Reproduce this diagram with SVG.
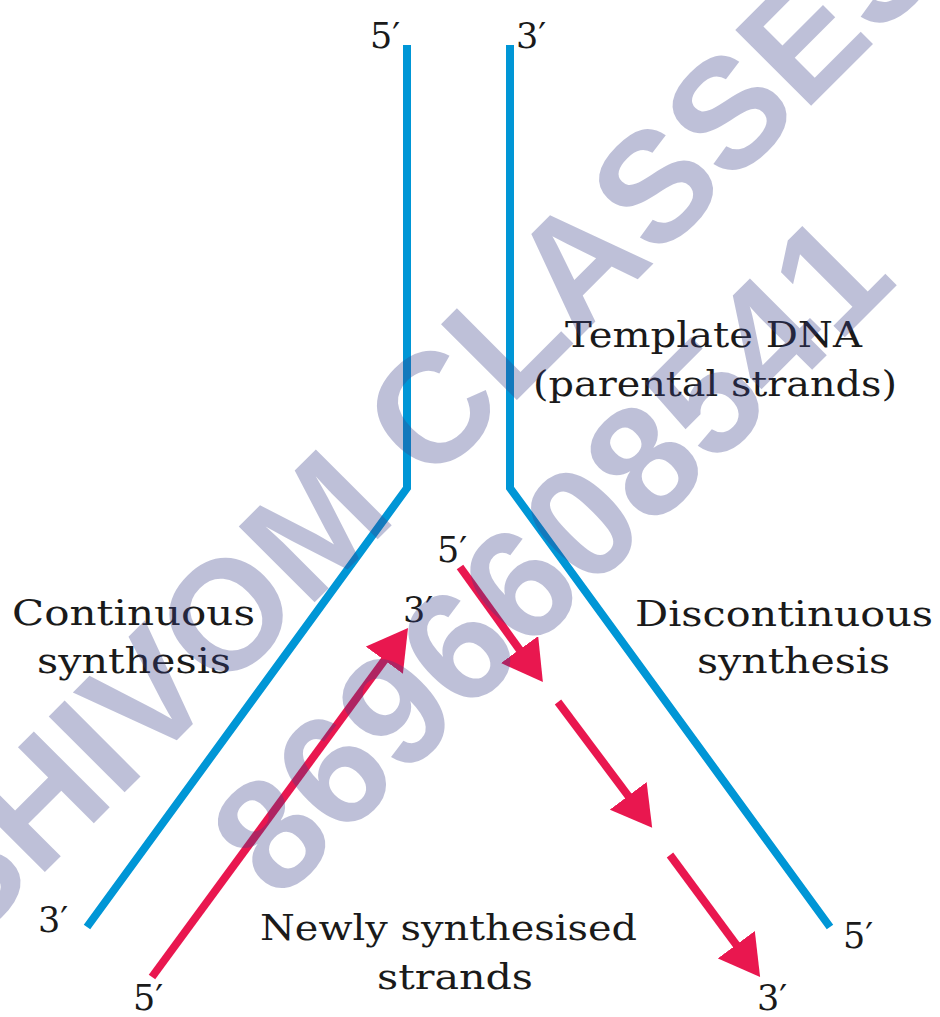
<svg xmlns="http://www.w3.org/2000/svg" width="940" height="1017" viewBox="0 0 940 1017">
  <style>
    .lbl { font-family: "DejaVu Serif", "Liberation Serif", serif; font-size: 36px; fill: #1a1a1a; }
    .end { font-family: "DejaVu Serif", "Liberation Serif", serif; font-size: 35px; fill: #1a1a1a; }
    .tmpl { fill: none; stroke: #0096d6; stroke-width: 8; stroke-linejoin: miter; stroke-linecap: butt; }
    .new { fill: none; stroke: #e9174f; stroke-width: 8; stroke-linecap: butt; }
    .wm { font-family: "Liberation Sans", Arial, sans-serif; font-weight: bold; fill: #3a3f8a; fill-opacity: 0.33; }
  </style>
  <defs>
    <marker id="head" markerUnits="userSpaceOnUse" markerWidth="40" markerHeight="46" refX="20" refY="23" orient="auto" viewBox="0 0 40 46">
      <path d="M0,0 L40,23 L0,46 z" fill="#e9174f"/>
    </marker>
  </defs>
  <rect width="940" height="1017" fill="#ffffff"/>

  <g id="connectors">
    <path id="template-left" class="tmpl" d="M407,45 L407,488 L87,927"/>
    <path id="template-right" class="tmpl" d="M510,45 L510,488 L830,927"/>
    <line id="leading" class="new" x1="152" y1="977" x2="396.2" y2="644.1" marker-end="url(#head)"/>
    <line id="lagging-1" class="new" x1="460" y1="567" x2="531.2" y2="665.8" marker-end="url(#head)"/>
    <line id="lagging-2" class="new" x1="558" y1="702" x2="640.2" y2="811.8" marker-end="url(#head)"/>
    <line id="lagging-3" class="new" x1="670" y1="855" x2="748.2" y2="960.8" marker-end="url(#head)"/>
  </g>

  <g id="end-top-left"><text class="end" x="370" y="48">5′</text></g>
  <g id="end-top-right"><text class="end" x="516" y="48">3′</text></g>
  <g id="label-template">
    <text class="lbl" x="565" y="347" textLength="297" lengthAdjust="spacingAndGlyphs">Template DNA</text>
    <text class="lbl" x="533" y="396" textLength="364" lengthAdjust="spacingAndGlyphs">(parental strands)</text>
  </g>
  <g id="label-continuous">
    <text class="lbl" x="12" y="625" textLength="243" lengthAdjust="spacingAndGlyphs">Continuous</text>
    <text class="lbl" x="37" y="673" textLength="194" lengthAdjust="spacingAndGlyphs">synthesis</text>
  </g>
  <g id="label-discontinuous">
    <text class="lbl" x="635" y="626" textLength="298" lengthAdjust="spacingAndGlyphs">Discontinuous</text>
    <text class="lbl" x="697" y="673" textLength="193" lengthAdjust="spacingAndGlyphs">synthesis</text>
  </g>
  <g id="end-mid-5"><text class="end" x="437" y="562">5′</text></g>
  <g id="end-mid-3"><text class="end" x="403" y="622">3′</text></g>
  <g id="end-bottom-left-3"><text class="end" x="38" y="932">3′</text></g>
  <g id="end-bottom-left-5"><text class="end" x="133" y="1010">5′</text></g>
  <g id="end-bottom-right-5"><text class="end" x="843" y="948">5′</text></g>
  <g id="end-bottom-right-3"><text class="end" x="757" y="1010">3′</text></g>
  <g id="label-new">
    <text class="lbl" x="260" y="940" textLength="377" lengthAdjust="spacingAndGlyphs">Newly synthesised</text>
    <text class="lbl" x="377" y="989" textLength="156" lengthAdjust="spacingAndGlyphs">strands</text>
  </g>

  <g id="watermark">
    <text class="wm" font-size="156" transform="translate(-36 953) rotate(-45)">SHIVOM CLASSES</text>
    <text class="wm" font-size="158" transform="translate(278.5 903.5) rotate(-45)">8696608541</text>
  </g>
</svg>
